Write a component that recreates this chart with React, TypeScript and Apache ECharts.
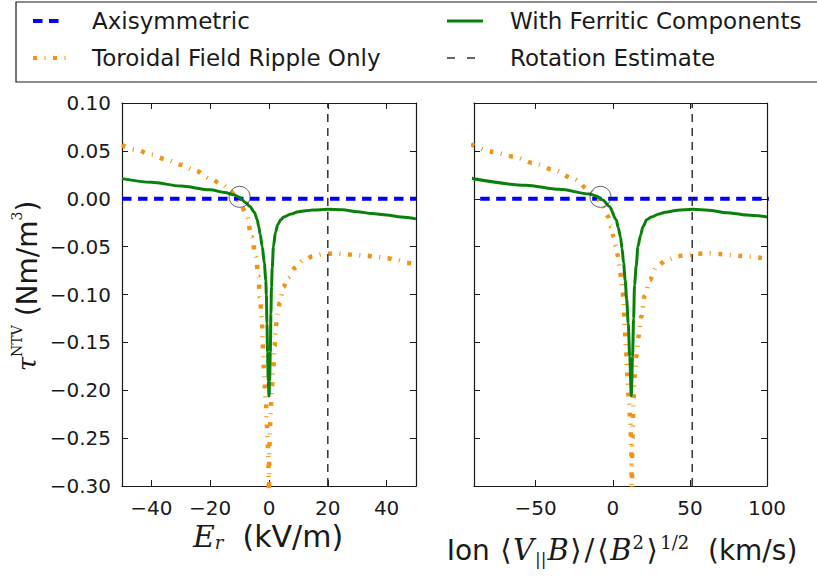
import React, { useEffect, useRef } from 'react';
import * as echarts from 'echarts';

// ---------- data ----------
const leftXTicks = [-40, -20, 0, 20, 40];
const rightXTicks = [-50, 0, 50, 100];

const axisymLX = [-50, 50];
const axisymLY = [0, 0];
const axisymRX = [-86, 110];
const axisymRY = [0, 0];

const rippleLX = [-50, -45, -40, -35, -30, -25, -20, -16, -13, -11.5, -9.5, -7.6, -5.9, -4.5, -3.6, -3.1, -2.4, -2.2, -1.9, -1.6, -1.0, -0.8, -0.45, -0.2, 0, 0.1, 0.3, 0.6, 1.0, 1.5, 1.9, 2.4, 3.0, 3.7, 4.9, 6.5, 8.9, 11.7, 15, 18, 22, 26, 29.4, 33, 36.2, 40, 43.6, 47, 50];
const rippleLY = [0.056, 0.051, 0.046, 0.041, 0.0355, 0.0295, 0.021, 0.015, 0.008, 0.002, -0.007, -0.017, -0.040, -0.060, -0.081, -0.103, -0.127, -0.147, -0.17, -0.191, -0.213, -0.234, -0.255, -0.276, -0.32, -0.265, -0.241, -0.22, -0.196, -0.175, -0.154, -0.132, -0.118, -0.108, -0.092, -0.082, -0.072, -0.064, -0.060, -0.058, -0.057, -0.058, -0.0587, -0.0595, -0.0605, -0.062, -0.064, -0.067, -0.068];

const ferriticLX = [-50, -40, -30, -20, -15, -12, -10, -9, -8, -6.5, -5, -4, -3.5, -3, -2.3, -1.6, -1.1, -0.9, -0.7, -0.5, -0.25, 0, 0.2, 0.45, 0.65, 0.85, 1.1, 1.5, 2.2, 3, 4, 5, 7.5, 10, 12.5, 15, 20, 25, 30, 35, 40, 45, 50];
const ferriticLY = [0.021, 0.0172, 0.0133, 0.0093, 0.0066, 0.0042, 0.0015, -0.0015, -0.004, -0.008, -0.014, -0.022, -0.029, -0.037, -0.050, -0.067, -0.085, -0.1, -0.13, -0.16, -0.19, -0.206, -0.19, -0.16, -0.12, -0.092, -0.072, -0.05, -0.035, -0.027, -0.022, -0.019, -0.016, -0.0135, -0.0125, -0.0118, -0.011, -0.0115, -0.0135, -0.0155, -0.017, -0.019, -0.021];

const rippleRX = [-92, -78.2, -64.1, -51, -38, -26, -15, -10, -6.5, -3.3, -1.1, 0.5, 2.2, 3.3, 4.4, 5.5, 6.1, 7.0, 7.6, 8.7, 9.4, 10.4, 11.3, 12.0, 12.3, 12.7, 13.5, 14.3, 15.2, 16.5, 18.5, 20.7, 23.9, 28.3, 34.8, 42, 48.9, 55, 61.9, 69, 76, 83, 89.1, 96.7];
const rippleRY = [0.057, 0.049, 0.044, 0.037, 0.030, 0.0213, 0.009, 0.001, -0.008, -0.018, -0.029, -0.04, -0.05, -0.06, -0.0715, -0.083, -0.0935, -0.104, -0.13, -0.16, -0.185, -0.21, -0.231, -0.26, -0.32, -0.25, -0.208, -0.185, -0.165, -0.145, -0.123, -0.101, -0.085, -0.071, -0.064, -0.060, -0.0587, -0.0575, -0.057, -0.0578, -0.0587, -0.0597, -0.0605, -0.062];

const ferriticRX = [-92, -56.5, -34.7, -15.2, -10.8, -6.5, -2.2, 2.2, 3.5, 5, 6, 7, 8, 9, 10, 11, 12, 12.8, 13.5, 14.1, 15.2, 16.3, 18, 19.6, 22, 25, 30, 34, 42, 52, 62, 74, 87, 100];
const ferriticRY = [0.0215, 0.0142, 0.0099, 0.005, 0.003, -0.0013, -0.008, -0.022, -0.030, -0.040, -0.052, -0.067, -0.085, -0.105, -0.13, -0.165, -0.206, -0.165, -0.125, -0.09, -0.07, -0.05, -0.038, -0.029, -0.022, -0.019, -0.016, -0.014, -0.012, -0.011, -0.012, -0.0145, -0.017, -0.019];

const rotationLX = [20, 20];
const rotationRX = [51.5, 51.5];
const rotationY = [-0.3, 0.1];

const circleLX = [-10];
const circleRX = [-8];
const circleY = [0.002];

const legendNames = ['Axisymmetric', 'Toroidal Field Ripple Only', 'With Ferritic Components', 'Rotation Estimate'];

// ---------- styles ----------
const SANS = 'DejaVu Sans';
const SERIF = 'DejaVu Serif';
const INK = '#1a1a1a';
const BLUE = '#0000ff';
const ORANGE = '#f29318';
const GREEN = '#0a800a';
const GREY = '#333333';
const CIRCLE = '#33334d';
const BLUE_DASH = [9.5, 6.5];
const ORANGE_DASH = [4, 7.5, 1, 7.5];
const ROT_DASH = [8, 6];
const ROT_LEGEND_DASH = [8, 12];

const zip = (xs: number[], ys: number[]) => xs.map((x, i) => [x, ys[i]]);

const fmt = (v: number) => {
  if (Math.abs(v) < 1e-9) return '0';
  return (v < 0 ? '\u2212' : '') + Math.abs(v);
};
const fmtY = (v: number) => {
  if (Math.abs(v) < 1e-9) return '0.00';
  return (v < 0 ? '\u2212' : '') + Math.abs(v).toFixed(2);
};

function buildOption() {
  const tickStyle = { inside: true, length: 6, lineStyle: { color: INK, width: 1 } };
  const lineStyle = { show: true, onZero: false, lineStyle: { color: INK, width: 1.2 } };

  const xAxisFor = (grid: number, min: number, max: number, ticks: number[], pos: 'top' | 'bottom') => ({
    type: 'value',
    gridIndex: grid,
    position: pos,
    min,
    max,
    axisLine: lineStyle,
    axisTick: { ...tickStyle, customValues: ticks },
    splitLine: { show: false },
    axisLabel: {
      show: pos === 'bottom',
      customValues: ticks,
      formatter: fmt,
      fontFamily: SANS,
      fontSize: 20,
      color: INK,
      margin: 12,
    },
  });
  const yAxisFor = (grid: number, pos: 'left' | 'right', labels: boolean) => ({
    type: 'value',
    gridIndex: grid,
    position: pos,
    min: -0.3,
    max: 0.1,
    interval: 0.05,
    axisLine: lineStyle,
    axisTick: tickStyle,
    splitLine: { show: false },
    axisLabel: {
      show: labels,
      formatter: fmtY,
      fontFamily: SANS,
      fontSize: 20,
      color: INK,
      margin: 11,
    },
  });

  const line = (name: string, xi: number, data: number[][], color: string, width: number, type: any, z = 2, smooth: number | boolean = false) => ({
    name,
    type: 'line',
    xAxisIndex: xi,
    yAxisIndex: xi,
    data,
    showSymbol: false,
    symbol: 'none',
    clip: true,
    smooth,
    smoothMonotone: 'x',
    z,
    lineStyle: { color, width, type, cap: 'butt', join: 'round' },
    silent: true,
  });

  const circle = (xi: number, data: number[][]) => ({
    type: 'scatter',
    xAxisIndex: xi,
    yAxisIndex: xi,
    data,
    symbol: 'circle',
    symbolSize: 21,
    z: 10,
    itemStyle: { color: 'rgba(0,0,0,0)', borderColor: CIRCLE, borderWidth: 1 },
    silent: true,
  });

  const legendRowY = [21, 58];
  const legendCol = [{ lx: 33, tx: 92 }, { lx: 447, tx: 510 }];
  const legendStyles = [
    { color: BLUE, width: 4, dash: BLUE_DASH, x2: 60 },
    { color: ORANGE, width: 4, dash: ORANGE_DASH, x2: 70 },
    { color: GREEN, width: 3, dash: null, x2: 483 },
    { color: GREY, width: 1.5, dash: ROT_LEGEND_DASH, x2: 475 },
  ];
  const legendGraphics: any[] = [
    {
      type: 'rect',
      shape: { x: 16, y: 2, width: 820, height: 80 },
      style: { fill: '#fff', stroke: INK, lineWidth: 1.2 },
      z: 0,
    },
  ];
  legendNames.forEach((name, i) => {
    const col = legendCol[i < 2 ? 0 : 1];
    const y = legendRowY[i % 2];
    const st = legendStyles[i];
    legendGraphics.push({
      type: 'line',
      shape: { x1: col.lx, y1: y, x2: st.x2, y2: y },
      style: { stroke: st.color, lineWidth: st.width, lineDash: st.dash || undefined, lineCap: 'butt' },
      z: 1,
    });
    legendGraphics.push({
      type: 'text',
      x: col.tx,
      y,
      style: { text: name, fontFamily: SANS, fontSize: 23, fill: INK, align: 'left', verticalAlign: 'middle' },
      z: 1,
    });
  });

  const titles: any[] = [
    {
      type: 'text',
      x: 268,
      y: 536,
      style: {
        text: '{e|E}{r|r}{n|  (kV/m)}',
        align: 'center',
        verticalAlign: 'middle',
        fill: INK,
        fontSize: 30,
        fontFamily: SANS,
        rich: {
          e: { fontFamily: SERIF, fontStyle: 'italic', fontSize: 30, lineHeight: 30, verticalAlign: 'middle', fill: INK },
          r: { fontFamily: SERIF, fontStyle: 'italic', fontSize: 18, lineHeight: 18, verticalAlign: 'bottom', fill: INK },
          n: { fontFamily: SANS, fontSize: 30, lineHeight: 30, verticalAlign: 'middle', fill: INK },
        },
      },
    },
    {
      type: 'text',
      x: 622,
      y: 550,
      style: {
        text: '{n|Ion }{m|\u27E8}{i|V}{sb|||}{i|B}{m|\u27E9}{m|/}{m|\u27E8}{i|B}{sp|2}{m|\u27E9}{sp|1/2}{n|  (km/s)}',
        align: 'center',
        verticalAlign: 'middle',
        fill: INK,
        fontSize: 28,
        fontFamily: SANS,
        rich: {
          n: { fontFamily: SANS, fontSize: 28, lineHeight: 34, verticalAlign: 'middle', fill: INK },
          m: { fontFamily: SERIF, fontSize: 29, lineHeight: 34, verticalAlign: 'middle', fill: INK, padding: [0, 1.5, 0, 1.5] },
          i: { fontFamily: SERIF, fontStyle: 'italic', fontSize: 29, lineHeight: 34, verticalAlign: 'middle', fill: INK },
          sb: { fontFamily: SERIF, fontSize: 17, lineHeight: 17, verticalAlign: 'bottom', fill: INK, padding: [0, 1, 0, 1] },
          sp: { fontFamily: SERIF, fontSize: 18, lineHeight: 18, verticalAlign: 'top', fill: INK, padding: [0, 1, 0, 1] },
        },
      },
    },
    {
      type: 'text',
      x: 27,
      y: 286,
      rotation: Math.PI / 2,
      style: {
        text: '{t|\u03C4}{s|NTV}{n| (Nm/m}{s|3}{n|)}',
        align: 'center',
        verticalAlign: 'middle',
        fill: INK,
        fontSize: 28,
        fontFamily: SANS,
        rich: {
          t: { fontFamily: SERIF, fontStyle: 'italic', fontSize: 26, lineHeight: 34, verticalAlign: 'middle', fill: INK },
          s: { fontFamily: SERIF, fontSize: 14, lineHeight: 14, verticalAlign: 'top', fill: INK },
          n: { fontFamily: SANS, fontSize: 28, lineHeight: 34, verticalAlign: 'middle', fill: INK },
        },
      },
    },
  ];

  return {
    animation: false,
    backgroundColor: '#ffffff',
    grid: [
      { left: 122, top: 103, width: 294, height: 383, containLabel: false },
      { left: 474, top: 103, width: 293, height: 383, containLabel: false },
    ],
    xAxis: [
      xAxisFor(0, -50, 50, leftXTicks, 'bottom'),
      xAxisFor(1, -90, 100, rightXTicks, 'bottom'),
      xAxisFor(0, -50, 50, leftXTicks, 'top'),
      xAxisFor(1, -90, 100, rightXTicks, 'top'),
    ],
    yAxis: [
      yAxisFor(0, 'left', true),
      yAxisFor(1, 'left', false),
      yAxisFor(0, 'right', false),
      yAxisFor(1, 'right', false),
    ],
    series: [
      line(legendNames[0], 0, zip(axisymLX, axisymLY), BLUE, 4, BLUE_DASH, 2),
      line(legendNames[1], 0, zip(rippleLX, rippleLY), ORANGE, 4.5, ORANGE_DASH, 3, 0.3),
      line(legendNames[2], 0, zip(ferriticLX, ferriticLY), GREEN, 3, 'solid', 4, 0.3),
      line(legendNames[3], 0, zip(rotationLX, rotationY), GREY, 1.5, ROT_DASH, 5),
      circle(0, zip(circleLX, circleY)),
      line(legendNames[0], 1, zip(axisymRX, axisymRY), BLUE, 4, BLUE_DASH, 2),
      line(legendNames[1], 1, zip(rippleRX, rippleRY), ORANGE, 4.5, ORANGE_DASH, 3, 0.3),
      line(legendNames[2], 1, zip(ferriticRX, ferriticRY), GREEN, 3, 'solid', 4, 0.3),
      line(legendNames[3], 1, zip(rotationRX, rotationY), GREY, 1.5, ROT_DASH, 5),
      circle(1, zip(circleRX, circleY)),
    ],
    graphic: [...legendGraphics, ...titles],
  };
}

export default function App() {
  const ref = useRef<HTMLDivElement>(null);
  useEffect(() => {
    if (!ref.current) return;
    const chart = echarts.init(ref.current, undefined, { renderer: 'svg' });
    chart.setOption(buildOption() as any);
    return () => chart.dispose();
  }, []);
  return (
    <div
      ref={ref}
      style={{ position: 'fixed', left: 0, top: 0, width: 817, height: 577, background: '#fff' }}
    />
  );
}
